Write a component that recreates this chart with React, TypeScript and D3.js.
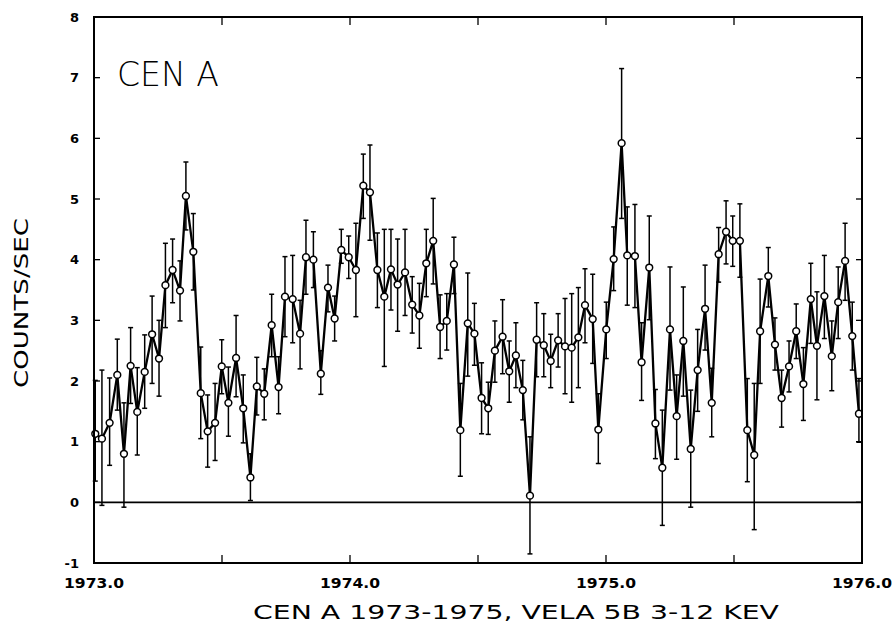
import React from "react";
import * as d3 from "d3";

const years = [
  1973.005, 1973.031, 1973.061, 1973.091, 1973.117, 1973.143, 1973.169, 1973.198, 1973.227, 1973.254,
  1973.279, 1973.307, 1973.336, 1973.359, 1973.388, 1973.417, 1973.444, 1973.473, 1973.499, 1973.525,
  1973.555, 1973.583, 1973.611, 1973.636, 1973.665, 1973.694, 1973.721, 1973.746, 1973.776, 1973.805,
  1973.828, 1973.857, 1973.886, 1973.914, 1973.940, 1973.966, 1973.995, 1974.023, 1974.052, 1974.078,
  1974.107, 1974.134, 1974.160, 1974.186, 1974.215, 1974.243, 1974.271, 1974.298, 1974.325, 1974.352,
  1974.378, 1974.406, 1974.431, 1974.460, 1974.486, 1974.514, 1974.540, 1974.566, 1974.596, 1974.622,
  1974.648, 1974.675, 1974.703, 1974.729, 1974.757, 1974.784, 1974.813, 1974.840, 1974.866, 1974.892,
  1974.918, 1974.948, 1974.970, 1975.001, 1975.030, 1975.061, 1975.083, 1975.113, 1975.139, 1975.169,
  1975.193, 1975.220, 1975.250, 1975.276, 1975.302, 1975.331, 1975.358, 1975.387, 1975.413, 1975.440,
  1975.469, 1975.495, 1975.523, 1975.552, 1975.579, 1975.602, 1975.634, 1975.660, 1975.686, 1975.715,
  1975.743, 1975.771, 1975.800, 1975.824, 1975.853, 1975.882, 1975.907, 1975.934, 1975.962, 1975.988,
];

const counts = [
  1.13, 1.05, 1.31, 2.10, 0.80, 2.25, 1.49, 2.15, 2.77, 2.37,
  3.58, 3.83, 3.49, 5.05, 4.13, 1.80, 1.17, 1.31, 2.24, 1.64,
  2.38, 1.55, 0.41, 1.91, 1.79, 2.92, 1.90, 3.39, 3.35, 2.78,
  4.04, 4.00, 2.12, 3.54, 3.03, 4.16, 4.04, 3.83, 5.22, 5.11,
  3.83, 3.39, 3.84, 3.59, 3.79, 3.26, 3.08, 3.94, 4.31, 2.89,
  2.99, 3.92, 1.19, 2.95, 2.78, 1.72, 1.55, 2.50, 2.73, 2.16,
  2.42, 1.85, 0.11, 2.68, 2.59, 2.33, 2.67, 2.57, 2.55, 2.72,
  3.25, 3.02, 1.20, 2.85, 4.01, 5.92, 4.07, 4.06, 2.31, 3.87,
  1.30, 0.57, 2.85, 1.42, 2.66, 0.88, 2.18, 3.19, 1.64, 4.09,
  4.46, 4.31, 4.31, 1.19, 0.78, 2.82, 3.73, 2.60, 1.72, 2.24,
  2.82, 1.95, 3.35, 2.58, 3.40, 2.41, 3.30, 3.98, 2.74, 1.46,
];

const upper = [
  2.01, 2.18, 2.05, 2.69, 1.64, 2.88, 2.22, 2.76, 3.40, 3.00,
  4.27, 4.34, 3.98, 5.61, 4.76, 2.56, 1.77, 1.96, 2.68, 2.23,
  3.08, 2.10, 0.80, 2.39, 2.20, 3.43, 2.40, 4.05, 4.07, 3.33,
  4.65, 4.46, 2.50, 3.91, 3.40, 4.50, 4.39, 4.60, 5.74, 5.89,
  4.44, 4.50, 4.50, 4.34, 4.50, 3.72, 3.61, 4.50, 5.01, 3.42,
  3.44, 4.37, 1.96, 3.78, 3.28, 2.30, 1.98, 2.99, 3.34, 2.66,
  2.96, 2.34, 1.08, 3.29, 3.11, 2.77, 3.11, 3.36, 3.44, 3.54,
  3.85, 3.76, 1.79, 3.30, 4.54, 7.15, 4.87, 4.91, 2.96, 4.72,
  1.86, 1.52, 3.88, 2.10, 3.55, 1.85, 2.85, 3.91, 2.21, 4.53,
  4.97, 4.72, 4.92, 2.04, 1.96, 3.68, 4.20, 3.04, 2.18, 2.66,
  3.27, 2.55, 3.94, 3.47, 4.07, 2.99, 3.88, 4.60, 3.30, 2.04,
];

const lower = [
  0.35, -0.05, 0.61, 1.52, -0.08, 1.63, 0.78, 1.55, 1.96, 1.75,
  2.88, 3.29, 2.99, 4.49, 3.50, 1.05, 0.58, 0.69, 1.79, 1.09,
  1.74, 0.98, 0.03, 1.44, 1.36, 2.40, 1.46, 2.73, 2.63, 2.20,
  3.43, 3.54, 1.78, 3.14, 2.66, 3.94, 3.69, 3.06, 4.68, 4.32,
  3.21, 2.24, 3.17, 2.82, 3.08, 2.79, 2.54, 3.39, 3.60, 2.37,
  2.51, 3.44, 0.43, 2.08, 2.26, 1.13, 1.12, 1.98, 2.12, 1.65,
  1.89, 1.36, -0.85, 2.07, 2.07, 1.89, 2.23, 1.79, 1.65, 1.89,
  2.63, 2.29, 0.64, 2.37, 3.49, 4.68, 3.25, 3.21, 1.68, 3.01,
  0.72, -0.38, 1.85, 0.71, 1.75, -0.08, 1.50, 2.51, 1.08, 3.63,
  3.93, 3.89, 3.71, 0.34, -0.45, 1.96, 3.22, 2.18, 1.24, 1.82,
  2.37, 1.35, 2.62, 1.69, 2.70, 1.84, 2.70, 3.33, 2.18, 0.99,
];

const yTicks = [-1, 0, 1, 2, 3, 4, 5, 6, 7, 8];
const xTickLabels = [1973, 1974, 1975, 1976];
const xMinorTicks = [1973.5, 1974, 1974.5, 1975, 1975.5];

const W = 895;
const H = 625;
const L = 94, R = 862, T = 17, B = 563;

export default function App() {
  const x = d3.scaleLinear().domain([1973, 1976]).range([L, R]);
  const y = d3.scaleLinear().domain([-1, 8]).range([B, T]);
  const pts = years.map((t, i) => ({ t, v: counts[i], hi: upper[i], lo: lower[i] }));
  const line = d3.line<{ t: number; v: number }>().x((d) => x(d.t)).y((d) => y(d.v));
  const labelFont = "'DejaVu Sans', sans-serif";

  return (
    <svg width={W} height={H} style={{ position: "absolute", left: 0, top: 0, background: "#fff" }}>
      <rect x={0} y={0} width={W} height={H} fill="#fff" />
      <line x1={L} x2={R} y1={y(0)} y2={y(0)} stroke="#000" strokeWidth={1.6} />
      {yTicks.map((v) => (
        <g key={"yt" + v}>
          <line x1={L} x2={L + 6} y1={y(v)} y2={y(v)} stroke="#000" strokeWidth={1.3} />
          <line x1={R - 6} x2={R} y1={y(v)} y2={y(v)} stroke="#000" strokeWidth={1.3} />
          <text x={79} y={y(v)} dy="0.36em" textAnchor="end" fontFamily={labelFont} fontWeight="bold" fontSize={13}>
            {v}
          </text>
        </g>
      ))}
      {xMinorTicks.map((t) => (
        <g key={"xt" + t}>
          <line x1={x(t)} x2={x(t)} y1={B} y2={B - 8} stroke="#000" strokeWidth={1.3} />
          <line x1={x(t)} x2={x(t)} y1={T} y2={T + 8} stroke="#000" strokeWidth={1.3} />
        </g>
      ))}
      {xTickLabels.map((t) => (
        <text
          key={"xl" + t}
          x={x(t) - 30}
          y={588}
          fontFamily={labelFont}
          fontWeight="bold"
          fontSize={14}
          textLength={60}
          lengthAdjust="spacingAndGlyphs"
        >
          {t.toFixed(1)}
        </text>
      ))}
      {pts.map((d, i) => (
        <g key={"eb" + i} stroke="#000" strokeWidth={1.5}>
          <line x1={x(d.t)} x2={x(d.t)} y1={y(d.hi)} y2={y(d.lo)} />
          <line x1={x(d.t) - 2.5} x2={x(d.t) + 2.5} y1={y(d.hi)} y2={y(d.hi)} />
          <line x1={x(d.t) - 2.5} x2={x(d.t) + 2.5} y1={y(d.lo)} y2={y(d.lo)} />
        </g>
      ))}
      <path d={line(pts) || ""} fill="none" stroke="#000" strokeWidth={2.3} strokeLinejoin="miter" />
      {pts.map((d, i) => (
        <circle key={"pt" + i} cx={x(d.t)} cy={y(d.v)} r={3.4} fill="#fff" stroke="#000" strokeWidth={1.5} />
      ))}
      <rect x={L} y={T} width={R - L} height={B - T} fill="none" stroke="#000" strokeWidth={2} />
      <text x={117} y={86} fontFamily={labelFont} fontWeight={300} fontSize={34} textLength={102} lengthAdjust="spacingAndGlyphs">
        CEN A
      </text>
      <text
        transform={`translate(28, 303) rotate(-90)`}
        textAnchor="middle"
        fontFamily={labelFont}
        fontWeight="normal"
        fontSize={19}
        textLength={170}
        lengthAdjust="spacingAndGlyphs"
      >
        COUNTS/SEC
      </text>
      <text x={253} y={619} fontFamily={labelFont} fontWeight="normal" fontSize={20} textLength={526} lengthAdjust="spacingAndGlyphs">
        CEN A 1973-1975, VELA 5B 3-12 KEV
      </text>
    </svg>
  );
}
